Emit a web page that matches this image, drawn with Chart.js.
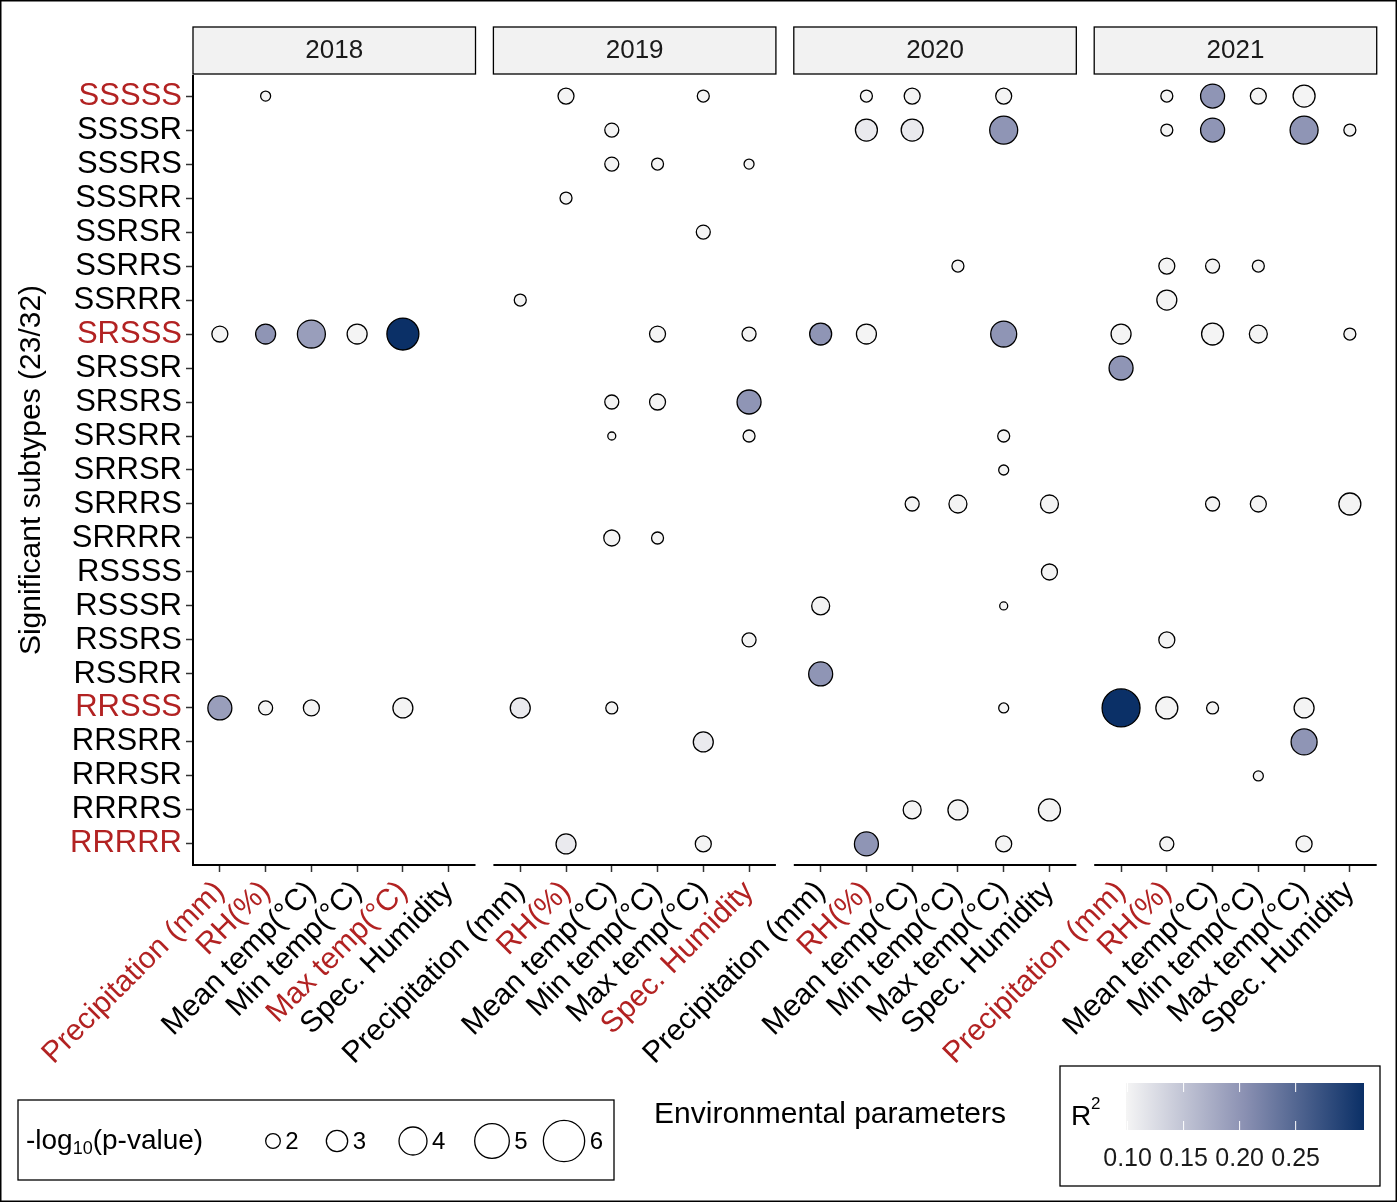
<!DOCTYPE html>
<html>
<head>
<meta charset="utf-8">
<script src="https://cdn.jsdelivr.net/npm/chart.js@4"></script>
<style>
  body { margin: 0; background: #fff; }
  canvas { display: block; }
</style>
</head>
<body>
<canvas id="bubbles" width="1397" height="1202"></canvas>
<script>
'use strict';

const years = ['2018', '2019', '2020', '2021'];
const subtypes = ['SSSSS', 'SSSSR', 'SSSRS', 'SSSRR', 'SSRSR', 'SSRRS', 'SSRRR', 'SRSSS', 'SRSSR', 'SRSRS', 'SRSRR',
    'SRRSR', 'SRRRS', 'SRRRR', 'RSSSS', 'RSSSR', 'RSSRS', 'RSSRR', 'RRSSS', 'RRSRR', 'RRRSR', 'RRRRS', 'RRRRR'];
const params = ['Precipitation (mm)', 'RH(%)', 'Mean temp(°C)', 'Min temp(°C)', 'Max temp(°C)', 'Spec. Humidity'];
const redRows = ['SSSSS', 'SRSSS', 'RRSSS', 'RRRRR'];
const redParams = [[0, 1, 4], [1, 5], [1], [0, 1]];
const sizeBreaks = [2, 3, 4, 5, 6];
const r2Breaks = [0.10, 0.15, 0.20, 0.25];

// [param index, subtype, -log10(p), R2]
const p2018 = [
    [1, 'SSSSS', 1.3, 0.10],
    [0, 'SRSSS', 2.2, 0.10], [1, 'SRSSS', 2.8, 0.20], [2, 'SRSSS', 4.0, 0.19], [3, 'SRSSS', 2.8, 0.10], [4, 'SRSSS', 4.6, 0.31],
    [0, 'RRSSS', 3.4, 0.19], [1, 'RRSSS', 1.9, 0.10], [2, 'RRSSS', 2.2, 0.10], [4, 'RRSSS', 2.8, 0.10],
];
const p2019 = [
    [1, 'SSSSS', 2.2, 0.10], [4, 'SSSSS', 1.6, 0.10],
    [2, 'SSSSR', 1.9, 0.10],
    [2, 'SSSRS', 1.9, 0.10], [3, 'SSSRS', 1.6, 0.10], [5, 'SSSRS', 1.3, 0.10],
    [1, 'SSSRR', 1.6, 0.10],
    [4, 'SSRSR', 1.9, 0.10],
    [0, 'SSRRR', 1.6, 0.10],
    [3, 'SRSSS', 2.2, 0.10], [5, 'SRSSS', 1.9, 0.10],
    [2, 'SRSRS', 1.9, 0.10], [3, 'SRSRS', 2.2, 0.10], [5, 'SRSRS', 3.4, 0.20],
    [2, 'SRSRR', 1.0, 0.10], [5, 'SRSRR', 1.6, 0.10],
    [2, 'SRRRR', 2.2, 0.10], [3, 'SRRRR', 1.6, 0.10],
    [5, 'RSSRS', 1.9, 0.10],
    [0, 'RRSSS', 2.8, 0.11], [2, 'RRSSS', 1.6, 0.10],
    [4, 'RRSRR', 2.8, 0.11],
    [1, 'RRRRR', 2.8, 0.11], [4, 'RRRRR', 2.2, 0.10],
];
const p2020 = [
    [1, 'SSSSS', 1.6, 0.10], [2, 'SSSSS', 2.2, 0.10], [4, 'SSSSS', 2.2, 0.10],
    [1, 'SSSSR', 3.1, 0.11], [2, 'SSSSR', 3.1, 0.11], [4, 'SSSSR', 4.0, 0.20],
    [3, 'SSRRS', 1.6, 0.10],
    [0, 'SRSSS', 3.1, 0.20], [1, 'SRSSS', 2.8, 0.10], [4, 'SRSSS', 3.7, 0.20],
    [4, 'SRSRR', 1.6, 0.10],
    [4, 'SRRSR', 1.3, 0.10],
    [2, 'SRRRS', 1.9, 0.10], [3, 'SRRRS', 2.5, 0.10], [5, 'SRRRS', 2.5, 0.10],
    [5, 'RSSSS', 2.2, 0.10],
    [0, 'RSSSR', 2.5, 0.10], [4, 'RSSSR', 1.0, 0.10],
    [0, 'RSSRR', 3.4, 0.20],
    [4, 'RRSSS', 1.3, 0.10],
    [2, 'RRRRS', 2.5, 0.10], [3, 'RRRRS', 2.8, 0.10], [5, 'RRRRS', 3.1, 0.10],
    [1, 'RRRRR', 3.4, 0.20], [4, 'RRRRR', 2.2, 0.10],
];
const p2021 = [
    [1, 'SSSSS', 1.6, 0.10], [2, 'SSSSS', 3.4, 0.20], [3, 'SSSSS', 2.2, 0.10], [4, 'SSSSS', 3.1, 0.10],
    [1, 'SSSSR', 1.6, 0.10], [2, 'SSSSR', 3.4, 0.20], [4, 'SSSSR', 4.0, 0.20], [5, 'SSSSR', 1.6, 0.10],
    [1, 'SSRRS', 2.2, 0.10], [2, 'SSRRS', 1.9, 0.10], [3, 'SSRRS', 1.6, 0.10],
    [1, 'SSRRR', 2.8, 0.10],
    [0, 'SRSSS', 2.8, 0.10], [2, 'SRSSS', 3.1, 0.10], [3, 'SRSSS', 2.5, 0.10], [5, 'SRSSS', 1.6, 0.10],
    [0, 'SRSSR', 3.4, 0.20],
    [2, 'SRRRS', 1.9, 0.10], [3, 'SRRRS', 2.2, 0.10], [5, 'SRRRS', 3.1, 0.10],
    [1, 'RSSRS', 2.2, 0.10],
    [0, 'RRSSS', 5.5, 0.31], [1, 'RRSSS', 3.1, 0.10], [2, 'RRSSS', 1.6, 0.10], [4, 'RRSSS', 2.8, 0.10],
    [4, 'RRSRR', 3.7, 0.20],
    [3, 'RRRSR', 1.3, 0.10],
    [1, 'RRRRR', 1.9, 0.10], [4, 'RRRRR', 2.2, 0.10],
];
const allPoints = [p2018, p2019, p2020, p2021];

const FONT = "'Liberation Sans', Arial, sans-serif";
const RED = '#b22222';
const PANEL_STEP = 6.565;  // panel spacing in category units
const R2_MIN = 0.0986, R2_MAX = 0.311;

const radius = v => 5 + (v - 1.3) * 3.33;

function hexRgb(h) { return [1, 3, 5].map(i => parseInt(h.slice(i, i + 2), 16)); }
const stops = [[0, '#f5f5f5'], [0.5, '#8a90b2'], [1, '#0a2f66']];
function r2Color(r2) {
    let t = Math.min(1, Math.max(0, (r2 - R2_MIN) / (R2_MAX - R2_MIN)));
    let i = t <= 0.5 ? 0 : 1;
    const a = hexRgb(stops[i][1]), b = hexRgb(stops[i + 1][1]);
    const f = (t - stops[i][0]) / (stops[i + 1][0] - stops[i][0]);
    return `rgb(${a.map((c, k) => Math.round(c + (b[k] - c) * f)).join(',')})`;
}

const tickPos = [];
years.forEach((y, p) => params.forEach((_, c) => tickPos.push(p * PANEL_STEP + c)));

const datasets = years.map((y, p) => ({
    label: y,
    data: allPoints[p].map(([c, s, v, r2]) => ({ x: p * PANEL_STEP + c, y: subtypes.indexOf(s), v, r2 })),
    pointRadius: ctx => radius(ctx.raw.v),
    pointBackgroundColor: ctx => r2Color(ctx.raw.r2),
    pointBorderColor: '#000',
    pointBorderWidth: 1.3,
}));

const decor = {
    id: 'decor',
    afterDraw(chart) {
        const { ctx, chartArea: a, scales: { x } } = chart;
        ctx.save();
        ctx.strokeStyle = '#000';
        // facet strips and panel axis lines
        years.forEach((y, p) => {
            const l = x.getPixelForValue(p * PANEL_STEP - 0.587);
            const r = x.getPixelForValue(p * PANEL_STEP + 5.587);
            ctx.fillStyle = '#f2f2f2';
            ctx.lineWidth = 1.3;
            ctx.fillRect(l, 27, r - l, 47);
            ctx.strokeRect(l, 27, r - l, 47);
            ctx.fillStyle = '#1a1a1a';
            ctx.font = `26px ${FONT}`;
            ctx.textAlign = 'center';
            ctx.textBaseline = 'middle';
            ctx.fillText(y, (l + r) / 2, 51);
            ctx.lineWidth = 2;
            ctx.beginPath();
            ctx.moveTo(l, a.bottom); ctx.lineTo(r, a.bottom);
            ctx.stroke();
        });
        ctx.beginPath();
        ctx.moveTo(a.left, a.top); ctx.lineTo(a.left, a.bottom + 1);
        ctx.stroke();

        // titles
        ctx.fillStyle = '#000';
        ctx.font = `30px ${FONT}`;
        ctx.textAlign = 'center';
        ctx.textBaseline = 'middle';
        ctx.fillText('Environmental parameters', 830, 1115);
        ctx.save();
        ctx.translate(32, 470);
        ctx.rotate(-Math.PI / 2);
        ctx.fillText('Significant subtypes (23/32)', 0, 0);
        ctx.restore();

        // size legend
        ctx.lineWidth = 1.3;
        ctx.strokeRect(18, 1100, 596, 80);
        ctx.textAlign = 'left';
        ctx.font = `28px ${FONT}`;
        ctx.fillText('-log', 26, 1141);
        let w = ctx.measureText('-log').width;
        ctx.font = `18px ${FONT}`;
        ctx.fillText('10', 26 + w, 1149);
        const w2 = ctx.measureText('10').width;
        ctx.font = `28px ${FONT}`;
        ctx.fillText('(p-value)', 26 + w + w2, 1141);
        const centers = [273, 337, 413, 492, 564];
        sizeBreaks.forEach((v, i) => {
            const r = radius(v);
            const cx = centers[i];
            ctx.beginPath();
            ctx.arc(cx, 1141, r, 0, Math.PI * 2);
            ctx.fillStyle = '#fff';
            ctx.fill();
            ctx.stroke();
            ctx.fillStyle = '#000';
            ctx.font = `24px ${FONT}`;
            ctx.fillText(String(v), cx + r + 5, 1142);
        });

        // colour bar legend
        ctx.strokeRect(1060, 1066, 320, 120);
        ctx.font = `28px ${FONT}`;
        ctx.fillText('R', 1071, 1117);
        ctx.font = `17px ${FONT}`;
        ctx.fillText('2', 1091, 1104);
        const bx0 = 1126, bx1 = 1364, by0 = 1083, by1 = 1130;
        const g = ctx.createLinearGradient(bx0, 0, bx1, 0);
        stops.forEach(([t, c]) => g.addColorStop(t, c));
        ctx.fillStyle = g;
        ctx.fillRect(bx0, by0, bx1 - bx0, by1 - by0);
        ctx.strokeStyle = '#fff';
        ctx.lineWidth = 1;
        ctx.textAlign = 'center';
        r2Breaks.forEach(b => {
            const px = bx0 + (b - R2_MIN) / (R2_MAX - R2_MIN) * (bx1 - bx0);
            ctx.beginPath();
            ctx.moveTo(px, by0); ctx.lineTo(px, by0 + 9);
            ctx.moveTo(px, by1); ctx.lineTo(px, by1 - 9);
            ctx.stroke();
            ctx.fillStyle = '#1a1a1a';
            ctx.font = `25px ${FONT}`;
            ctx.fillText(b.toFixed(2), px, 1159);
        });

        // outer frame
        ctx.strokeStyle = '#000';
        ctx.lineWidth = 1.5;
        ctx.strokeRect(0.75, 0.75, chart.width - 1.5, chart.height - 1.5);
        ctx.restore();
    },
};

new Chart(document.getElementById('bubbles'), {
    type: 'scatter',
    data: { datasets },
    options: {
        responsive: false, animation: false, devicePixelRatio: 1,
        layout: { padding: { top: 75, right: 9, left: 0, bottom: 0 } },
        plugins: { legend: { display: false }, tooltip: { enabled: false } },
        scales: {
            x: {
                type: 'linear', min: -0.587, max: 3 * PANEL_STEP + 5.587,
                afterBuildTicks: s => { s.ticks = tickPos.map(value => ({ value })); },
                afterFit: s => { s.height = 337; },
                border: { display: false },
                grid: { drawOnChartArea: false, color: '#333', tickLength: 7, tickWidth: 1.5 },
                ticks: {
                    autoSkip: false, minRotation: 45, maxRotation: 45, padding: 2,
                    font: { family: FONT, size: 30 },
                    color: ctx => redParams[Math.floor(ctx.index / 6)].includes(ctx.index % 6) ? RED : '#000',
                    callback: (v, i) => params[i % 6],
                },
            },
            y: {
                type: 'linear', reverse: true, min: -0.62, max: subtypes.length - 1 + 0.62,
                afterBuildTicks: s => { s.ticks = subtypes.map((_, value) => ({ value })); },
                afterFit: s => { s.width = 193; },
                border: { display: false },
                grid: { drawOnChartArea: false, color: '#333', tickLength: 7, tickWidth: 1.5 },
                ticks: {
                    autoSkip: false, padding: 4,
                    font: { family: FONT, size: 31 },
                    color: ctx => redRows.includes(subtypes[ctx.index]) ? RED : '#000',
                    callback: v => subtypes[v],
                },
            },
        },
    },
    plugins: [decor],
});
</script>
</body>
</html>
